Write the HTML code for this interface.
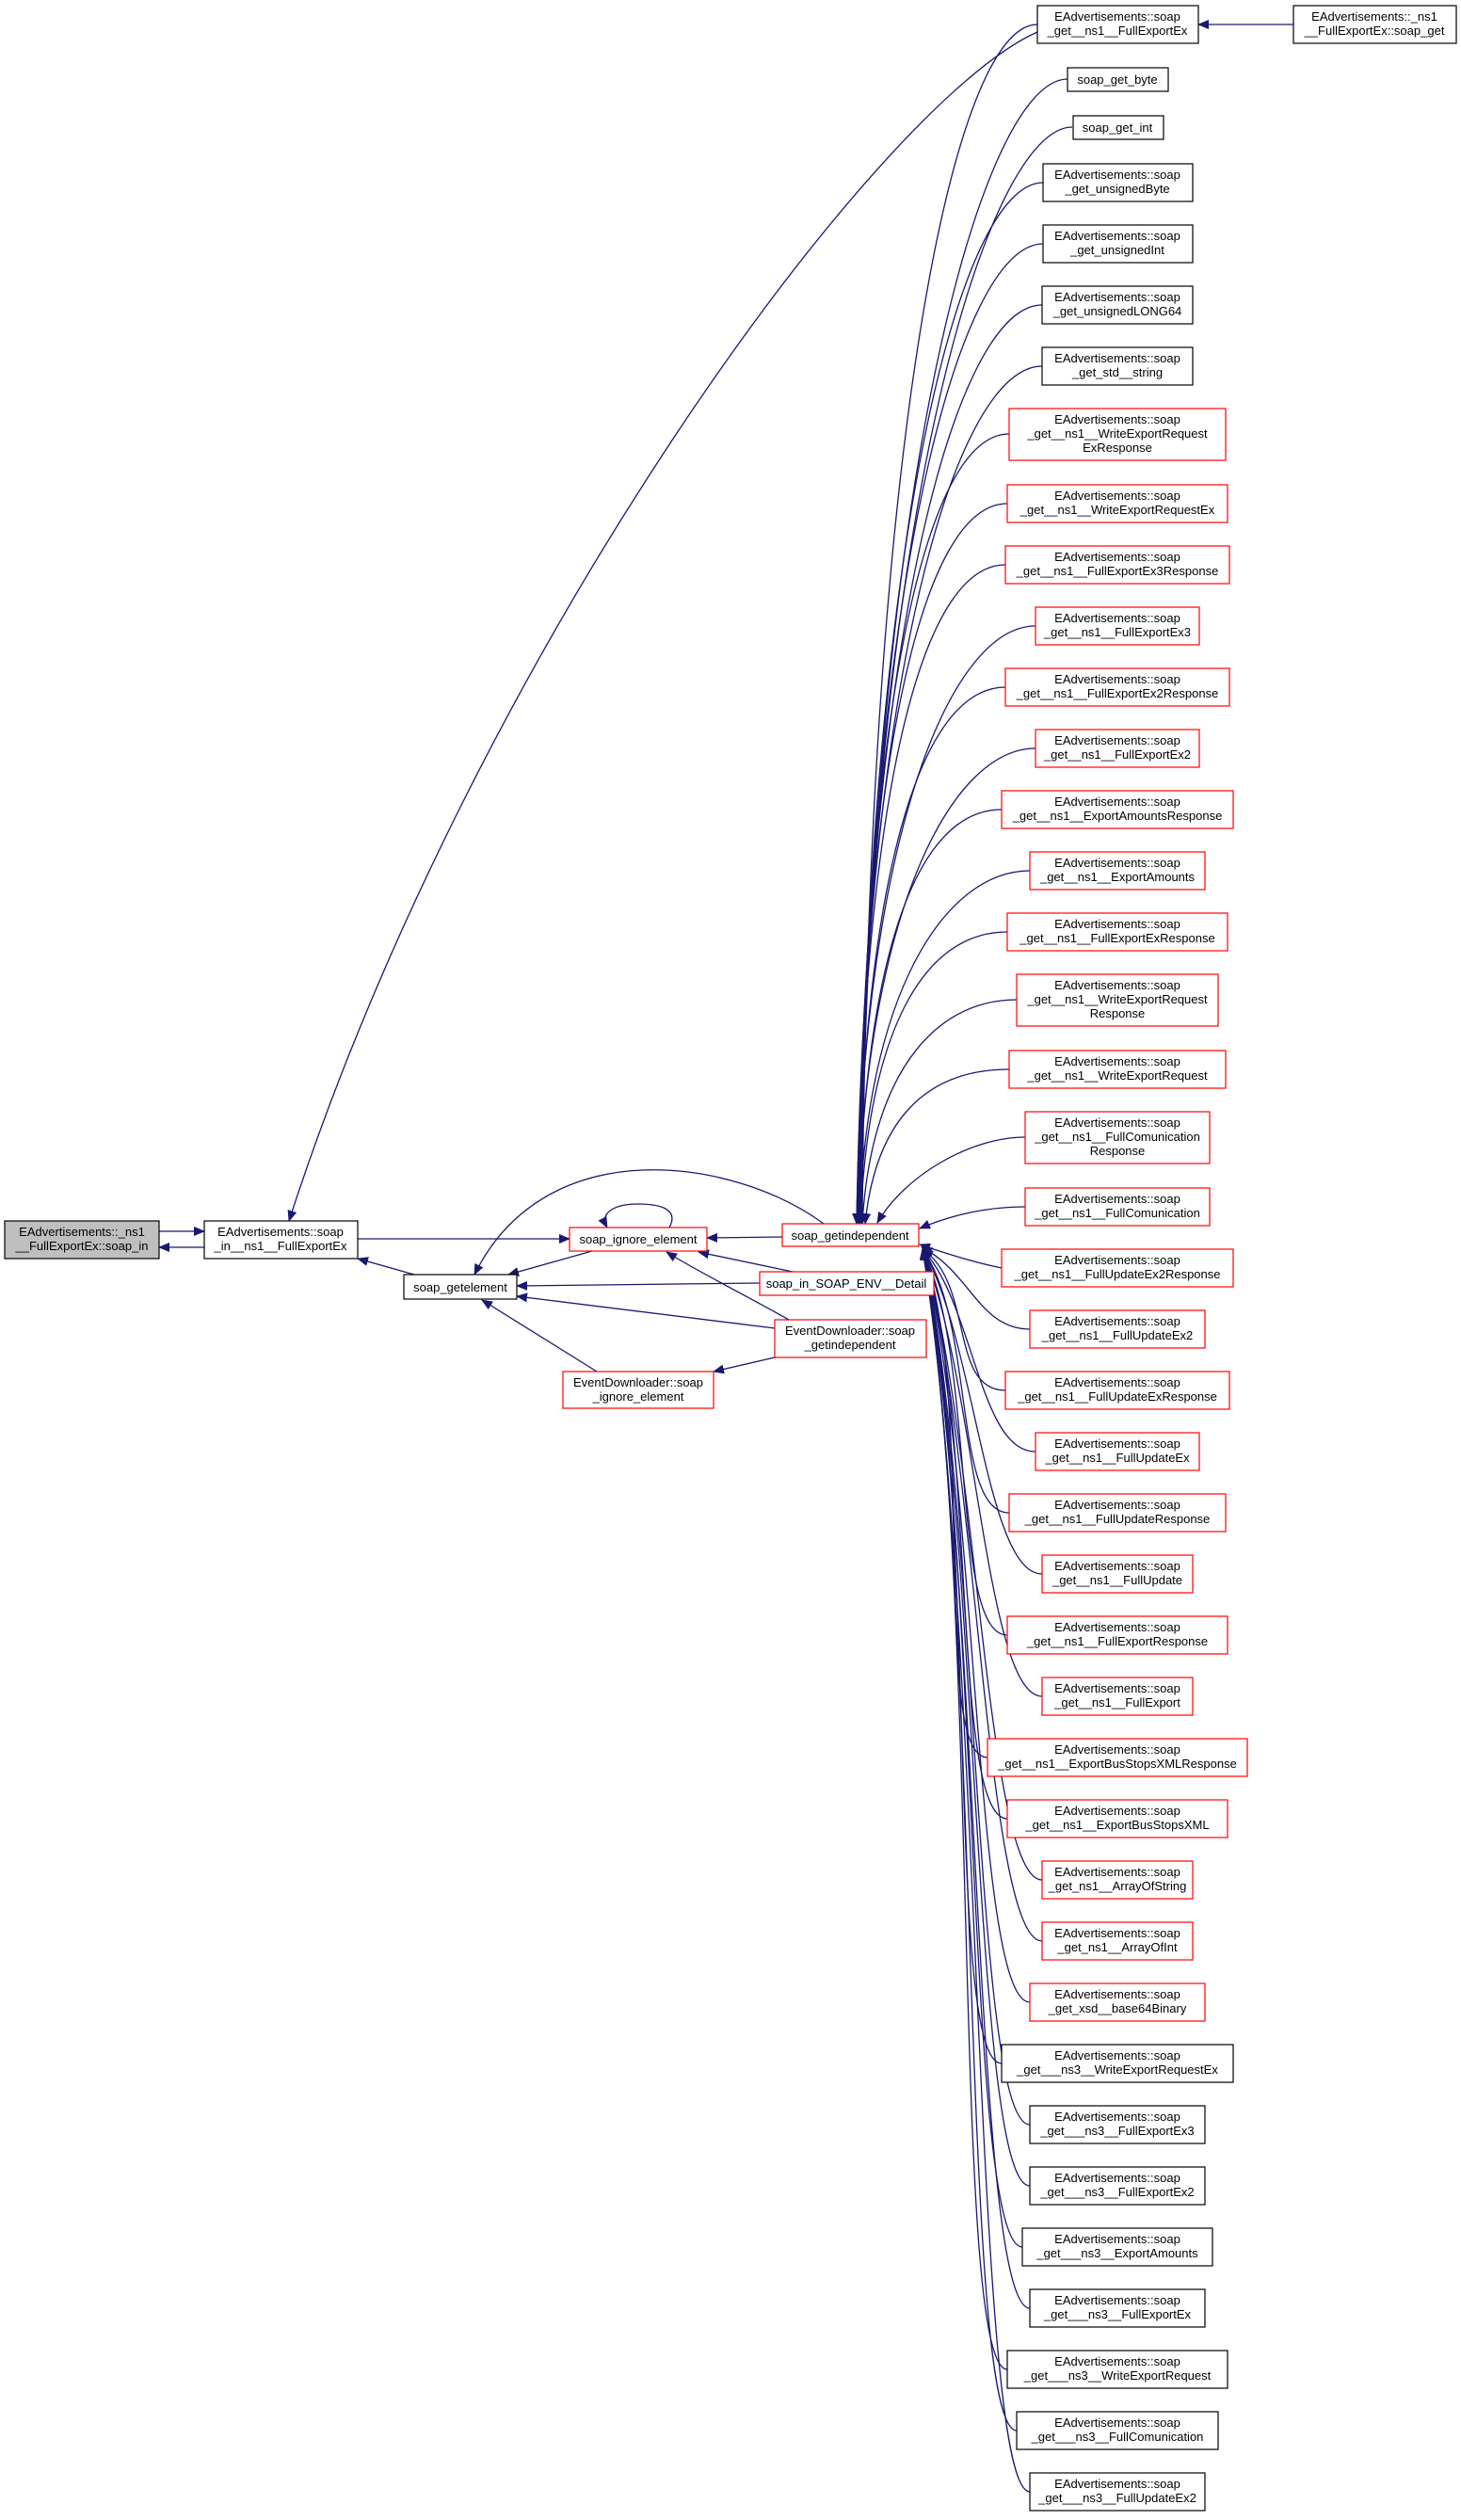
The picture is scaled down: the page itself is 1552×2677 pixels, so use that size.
<!DOCTYPE html>
<html><head><meta charset="utf-8"><style>
html,body{margin:0;padding:0;background:#fff}
svg{display:block}
text{font-family:"Liberation Sans",sans-serif;font-size:13px;fill:#000;text-anchor:middle}
.e{fill:none;stroke:#191970;stroke-width:1.3}
.b{fill:#fff;stroke:#000;stroke-width:1.2}
.r{fill:#fff;stroke:#ff0000;stroke-width:1.2}
</style></head><body>
<svg width="1552" height="2677" viewBox="0 0 1552 2677" xmlns="http://www.w3.org/2000/svg">
<defs><marker id="a" markerUnits="userSpaceOnUse" markerWidth="12" markerHeight="10" refX="11" refY="5" orient="auto"><path d="M0,0 L12,5 L0,10 z" fill="#191970"/></marker></defs>
<g class="e" marker-end="url(#a)">
<path d="M169,1308 L217,1308"/>
<path d="M217,1325 L169,1325"/>
<path d="M1374,26 L1273,26"/>
<path d="M1102,34 C930,110 500,700 307,1297"/>
<path d="M380,1316 L605,1316"/>
<path d="M440,1354 L380,1337"/>
<path d="M629,1329 L540,1354"/>
<path d="M711,1304 C722,1284 700,1279 678,1279 C655,1279 636,1287 645,1304"/>
<path d="M831,1314 L751,1315"/>
<path d="M875,1300 C780,1230 580,1200 504,1354"/>
<path d="M807,1363 L549,1366"/>
<path d="M842,1351 L742,1330"/>
<path d="M823,1411 L549,1377"/>
<path d="M838,1402 C790,1375 740,1350 708,1330"/>
<path d="M823,1442 L758,1457"/>
<path d="M634,1457 L512,1381"/>
<path d="M1102,26 C1012,26 922,471 916,1300"/>
<path d="M1134,84 C1044,84 922,509 915,1300"/>
<path d="M1139,135 C1050,135 921,542 914,1300"/>
<path d="M1108,194 C1018,194 921,580 913,1300"/>
<path d="M1108,259 C1018,259 920,622 912,1300"/>
<path d="M1107,324 C1017,324 920,665 912,1300"/>
<path d="M1107,389 C1017,389 919,707 911,1300"/>
<path d="M1072,461 C982,461 919,754 911,1300"/>
<path d="M1070,535 C980,535 918,802 910,1300"/>
<path d="M1068,600 C978,600 918,844 910,1300"/>
<path d="M1100,665 C1010,665 918,886 910,1300"/>
<path d="M1068,730 C978,730 918,928 911,1300"/>
<path d="M1100,795 C1010,795 919,971 911,1300"/>
<path d="M1064,860 C974,860 919,1013 912,1300"/>
<path d="M1094,925 C1004,925 920,1055 913,1300"/>
<path d="M1070,990 C980,990 922,1097 914,1300"/>
<path d="M1080,1062 C990,1062 925,1145 916,1300"/>
<path d="M1072,1136 C982,1136 930,1192 919,1300"/>
<path d="M1089,1208 C1030,1208 960,1250 932,1299"/>
<path d="M1089,1282 C1040,1282 1000,1295 977,1305"/>
<path d="M1064,1347 C1030,1340 1000,1330 977,1322"/>
<path d="M1094,1412 C1040,1412 1030,1350 979,1325"/>
<path d="M1068,1477 C1008,1477 1035,1364 980,1327"/>
<path d="M1100,1542 C1040,1542 1035,1386 980,1327"/>
<path d="M1072,1607 C1012,1607 1036,1405 980,1327"/>
<path d="M1107,1672 C1047,1672 1036,1421 980,1327"/>
<path d="M1070,1737 C1010,1737 1037,1441 980,1327"/>
<path d="M1107,1802 C1047,1802 1037,1464 980,1327"/>
<path d="M1049,1867 C989,1867 1038,1483 980,1327"/>
<path d="M1070,1932 C1010,1932 1038,1502 980,1327"/>
<path d="M1107,1997 C1047,1997 1039,1521 980,1327"/>
<path d="M1107,2062 C1047,2062 1039,1541 980,1327"/>
<path d="M1094,2127 C1034,2127 1040,1560 980,1327"/>
<path d="M1064,2192 C1004,2192 1040,1580 980,1327"/>
<path d="M1094,2257 C1034,2257 1041,1599 980,1327"/>
<path d="M1094,2322 C1034,2322 1041,1619 980,1327"/>
<path d="M1086,2387 C1026,2387 1042,1638 980,1327"/>
<path d="M1094,2452 C1034,2452 1042,1658 980,1327"/>
<path d="M1070,2517 C1010,2517 1043,1677 980,1327"/>
<path d="M1080,2582 C1020,2582 1043,1697 980,1327"/>
<path d="M1094,2647 C1034,2647 1044,1716 980,1327"/>
</g>
<rect x="5" y="1297" width="164" height="40" fill="#bfbfbf" stroke="#000" stroke-width="1.2"/>
<text x="87" y="1313">EAdvertisements::_ns1</text><text x="87" y="1328">__FullExportEx::soap_in</text>
<rect class="b" x="217" y="1297" width="163" height="40"/>
<text x="298" y="1313">EAdvertisements::soap</text><text x="298" y="1328">_in__ns1__FullExportEx</text>
<rect class="b" x="429" y="1354" width="120" height="26"/><text x="489" y="1372">soap_getelement</text>
<rect class="r" x="605" y="1304" width="146" height="25"/><text x="678" y="1321">soap_ignore_element</text>
<rect class="r" x="831" y="1300" width="145" height="24"/><text x="903" y="1317">soap_getindependent</text>
<rect class="r" x="807" y="1351" width="185" height="25"/><text x="899" y="1368">soap_in_SOAP_ENV__Detail</text>
<rect class="r" x="823" y="1402" width="161" height="40"/>
<text x="903" y="1418">EventDownloader::soap</text><text x="903" y="1433">_getindependent</text>
<rect class="r" x="598" y="1457" width="160" height="39"/>
<text x="678" y="1473">EventDownloader::soap</text><text x="678" y="1488">_ignore_element</text>
<rect class="b" x="1374" y="6" width="173" height="40"/>
<text x="1460" y="22">EAdvertisements::_ns1</text><text x="1460" y="37">__FullExportEx::soap_get</text>
<rect class="b" x="1102" y="6" width="171" height="40"/><text x="1187" y="22">EAdvertisements::soap</text><text x="1187" y="37">_get__ns1__FullExportEx</text>
<rect class="b" x="1134" y="72" width="107" height="25"/><text x="1187" y="89">soap_get_byte</text>
<rect class="b" x="1140" y="123" width="96" height="25"/><text x="1187" y="140">soap_get_int</text>
<rect class="b" x="1108" y="174" width="159" height="40"/><text x="1187" y="190">EAdvertisements::soap</text><text x="1187" y="205">_get_unsignedByte</text>
<rect class="b" x="1108" y="239" width="159" height="40"/><text x="1187" y="255">EAdvertisements::soap</text><text x="1187" y="270">_get_unsignedInt</text>
<rect class="b" x="1107" y="304" width="160" height="40"/><text x="1187" y="320">EAdvertisements::soap</text><text x="1187" y="335">_get_unsignedLONG64</text>
<rect class="b" x="1107" y="369" width="160" height="40"/><text x="1187" y="385">EAdvertisements::soap</text><text x="1187" y="400">_get_std__string</text>
<rect class="r" x="1072" y="434" width="230" height="55"/><text x="1187" y="450">EAdvertisements::soap</text><text x="1187" y="465">_get__ns1__WriteExportRequest</text><text x="1187" y="480">ExResponse</text>
<rect class="r" x="1070" y="515" width="234" height="40"/><text x="1187" y="531">EAdvertisements::soap</text><text x="1187" y="546">_get__ns1__WriteExportRequestEx</text>
<rect class="r" x="1068" y="580" width="238" height="40"/><text x="1187" y="596">EAdvertisements::soap</text><text x="1187" y="611">_get__ns1__FullExportEx3Response</text>
<rect class="r" x="1100" y="645" width="174" height="40"/><text x="1187" y="661">EAdvertisements::soap</text><text x="1187" y="676">_get__ns1__FullExportEx3</text>
<rect class="r" x="1068" y="710" width="238" height="40"/><text x="1187" y="726">EAdvertisements::soap</text><text x="1187" y="741">_get__ns1__FullExportEx2Response</text>
<rect class="r" x="1100" y="775" width="174" height="40"/><text x="1187" y="791">EAdvertisements::soap</text><text x="1187" y="806">_get__ns1__FullExportEx2</text>
<rect class="r" x="1064" y="840" width="246" height="40"/><text x="1187" y="856">EAdvertisements::soap</text><text x="1187" y="871">_get__ns1__ExportAmountsResponse</text>
<rect class="r" x="1094" y="905" width="186" height="40"/><text x="1187" y="921">EAdvertisements::soap</text><text x="1187" y="936">_get__ns1__ExportAmounts</text>
<rect class="r" x="1070" y="970" width="234" height="40"/><text x="1187" y="986">EAdvertisements::soap</text><text x="1187" y="1001">_get__ns1__FullExportExResponse</text>
<rect class="r" x="1080" y="1035" width="214" height="55"/><text x="1187" y="1051">EAdvertisements::soap</text><text x="1187" y="1066">_get__ns1__WriteExportRequest</text><text x="1187" y="1081">Response</text>
<rect class="r" x="1072" y="1116" width="230" height="40"/><text x="1187" y="1132">EAdvertisements::soap</text><text x="1187" y="1147">_get__ns1__WriteExportRequest</text>
<rect class="r" x="1089" y="1181" width="196" height="55"/><text x="1187" y="1197">EAdvertisements::soap</text><text x="1187" y="1212">_get__ns1__FullComunication</text><text x="1187" y="1227">Response</text>
<rect class="r" x="1089" y="1262" width="196" height="40"/><text x="1187" y="1278">EAdvertisements::soap</text><text x="1187" y="1293">_get__ns1__FullComunication</text>
<rect class="r" x="1064" y="1327" width="246" height="40"/><text x="1187" y="1343">EAdvertisements::soap</text><text x="1187" y="1358">_get__ns1__FullUpdateEx2Response</text>
<rect class="r" x="1094" y="1392" width="186" height="40"/><text x="1187" y="1408">EAdvertisements::soap</text><text x="1187" y="1423">_get__ns1__FullUpdateEx2</text>
<rect class="r" x="1068" y="1457" width="238" height="40"/><text x="1187" y="1473">EAdvertisements::soap</text><text x="1187" y="1488">_get__ns1__FullUpdateExResponse</text>
<rect class="r" x="1100" y="1522" width="174" height="40"/><text x="1187" y="1538">EAdvertisements::soap</text><text x="1187" y="1553">_get__ns1__FullUpdateEx</text>
<rect class="r" x="1072" y="1587" width="230" height="40"/><text x="1187" y="1603">EAdvertisements::soap</text><text x="1187" y="1618">_get__ns1__FullUpdateResponse</text>
<rect class="r" x="1107" y="1652" width="160" height="40"/><text x="1187" y="1668">EAdvertisements::soap</text><text x="1187" y="1683">_get__ns1__FullUpdate</text>
<rect class="r" x="1070" y="1717" width="234" height="40"/><text x="1187" y="1733">EAdvertisements::soap</text><text x="1187" y="1748">_get__ns1__FullExportResponse</text>
<rect class="r" x="1107" y="1782" width="160" height="40"/><text x="1187" y="1798">EAdvertisements::soap</text><text x="1187" y="1813">_get__ns1__FullExport</text>
<rect class="r" x="1049" y="1847" width="276" height="40"/><text x="1187" y="1863">EAdvertisements::soap</text><text x="1187" y="1878">_get__ns1__ExportBusStopsXMLResponse</text>
<rect class="r" x="1070" y="1912" width="234" height="40"/><text x="1187" y="1928">EAdvertisements::soap</text><text x="1187" y="1943">_get__ns1__ExportBusStopsXML</text>
<rect class="r" x="1107" y="1977" width="160" height="40"/><text x="1187" y="1993">EAdvertisements::soap</text><text x="1187" y="2008">_get_ns1__ArrayOfString</text>
<rect class="r" x="1107" y="2042" width="160" height="40"/><text x="1187" y="2058">EAdvertisements::soap</text><text x="1187" y="2073">_get_ns1__ArrayOfInt</text>
<rect class="r" x="1094" y="2107" width="186" height="40"/><text x="1187" y="2123">EAdvertisements::soap</text><text x="1187" y="2138">_get_xsd__base64Binary</text>
<rect class="b" x="1064" y="2172" width="246" height="40"/><text x="1187" y="2188">EAdvertisements::soap</text><text x="1187" y="2203">_get___ns3__WriteExportRequestEx</text>
<rect class="b" x="1094" y="2237" width="186" height="40"/><text x="1187" y="2253">EAdvertisements::soap</text><text x="1187" y="2268">_get___ns3__FullExportEx3</text>
<rect class="b" x="1094" y="2302" width="186" height="40"/><text x="1187" y="2318">EAdvertisements::soap</text><text x="1187" y="2333">_get___ns3__FullExportEx2</text>
<rect class="b" x="1086" y="2367" width="202" height="40"/><text x="1187" y="2383">EAdvertisements::soap</text><text x="1187" y="2398">_get___ns3__ExportAmounts</text>
<rect class="b" x="1094" y="2432" width="186" height="40"/><text x="1187" y="2448">EAdvertisements::soap</text><text x="1187" y="2463">_get___ns3__FullExportEx</text>
<rect class="b" x="1070" y="2497" width="234" height="40"/><text x="1187" y="2513">EAdvertisements::soap</text><text x="1187" y="2528">_get___ns3__WriteExportRequest</text>
<rect class="b" x="1080" y="2562" width="214" height="40"/><text x="1187" y="2578">EAdvertisements::soap</text><text x="1187" y="2593">_get___ns3__FullComunication</text>
<rect class="b" x="1094" y="2627" width="186" height="40"/><text x="1187" y="2643">EAdvertisements::soap</text><text x="1187" y="2658">_get___ns3__FullUpdateEx2</text>
</svg>
</body></html>
